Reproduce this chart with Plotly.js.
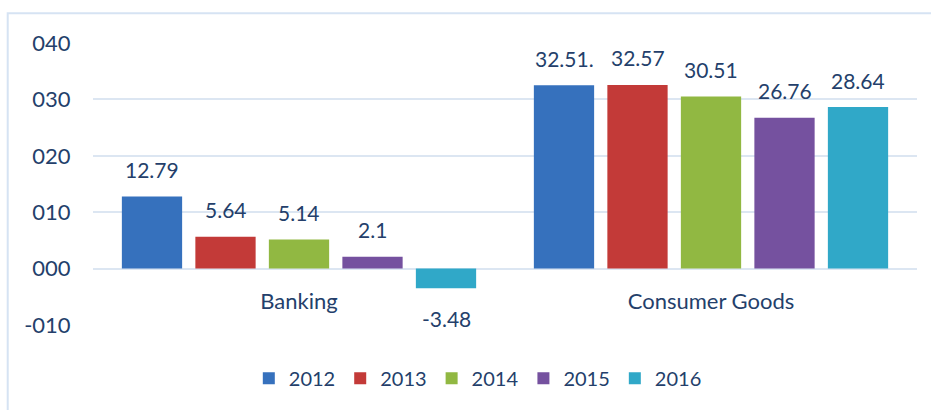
<!DOCTYPE html>
<html><head><meta charset="utf-8">
<script src="https://cdn.plot.ly/plotly-3.0.1.min.js"></script>
<style>html,body{margin:0;padding:0;background:#fff}#chart{width:931px;height:410px}</style>
</head><body><div id="chart"></div>
<script>
const categories = ["Banking", "Consumer Goods"];
const years = ["2012", "2013", "2014", "2015", "2016"];
const banking = [12.79, 5.64, 5.14, 2.1, -3.48];
const consumer = [32.51, 32.57, 30.51, 26.76, 28.64];
const bankingLabels = ["12.79", "5.64", "5.14", "2.1", "-3.48"];
const consumerLabels = ["32.51.", "32.57", "30.51", "26.76", "28.64"];
const tickVals = [-10, 0, 10, 20, 30, 40];
const tickText = ["-010", "000", "010", "020", "030", "040"];
const colors = ["#3671bd", "#c33a38", "#91b842", "#75519f", "#30a8c8"];

const FONT = "Lato, 'Open Sans', sans-serif";
const TXT = "#243f6b";
const bargap = 0.108;
const slot = (1 - bargap) / years.length;

const traces = years.map((y, i) => ({
  type: "bar",
  name: y,
  x: categories,
  y: [banking[i], consumer[i]],
  marker: {color: colors[i], line: {width: 0}},
  hoverinfo: "skip"
}));

const annotations = [];
years.forEach((y, i) => {
  [banking, consumer].forEach((series, c) => {
    const v = series[i];
    const lab = (c === 0 ? bankingLabels : consumerLabels)[i];
    annotations.push({
      x: c + (i - (years.length - 1) / 2) * slot,
      y: v, xref: "x", yref: "y",
      text: lab, showarrow: false,
      yshift: v >= 0 ? 27 : -30,
      font: {family: FONT, size: 21, color: TXT}
    });
  });
});

const layout = {
  width: 931, height: 410,
  margin: {l: 93, r: 14, t: 43, b: 83},
  paper_bgcolor: "#fff", plot_bgcolor: "#fff",
  barmode: "group", bargap: bargap, bargroupgap: 0.18,
  showlegend: true,
  legend: {orientation: "h", x: 0.467, xanchor: "center", y: -0.12, yanchor: "top",
           font: {family: FONT, size: 20, color: TXT}, traceorder: "normal",
           itemwidth: 30, tracegroupgap: 0},
  xaxis: {type: "category", range: [-0.5, 1.5], anchor: "free", position: 0.2,
          showgrid: false, zeroline: false, showline: false,
          ticks: "outside", ticklen: 13, tickcolor: "rgba(0,0,0,0)",
          tickfont: {family: FONT, size: 22, color: TXT}},
  yaxis: {range: [-10, 40], domain: [0, 1], tickvals: tickVals, ticktext: tickText,
          showgrid: true, gridcolor: "#dce6f2", gridwidth: 2,
          zeroline: true, zerolinecolor: "#dce6f2", zerolinewidth: 2,
          showline: false, ticks: "outside", ticklen: 17, tickcolor: "rgba(0,0,0,0)",
          tickfont: {family: FONT, size: 22, color: TXT}},
  shapes: [{type: "rect", xref: "paper", yref: "paper",
            x0: -0.1035, x1: 1.05, y0: -0.4, y1: 1.1056,
            line: {color: "#d6e3f3", width: 2}, fillcolor: "rgba(0,0,0,0)", layer: "below"}],
  annotations: annotations
};

Plotly.newPlot("chart", traces, layout, {staticPlot: true, displayModeBar: false});
</script>
</body></html>
